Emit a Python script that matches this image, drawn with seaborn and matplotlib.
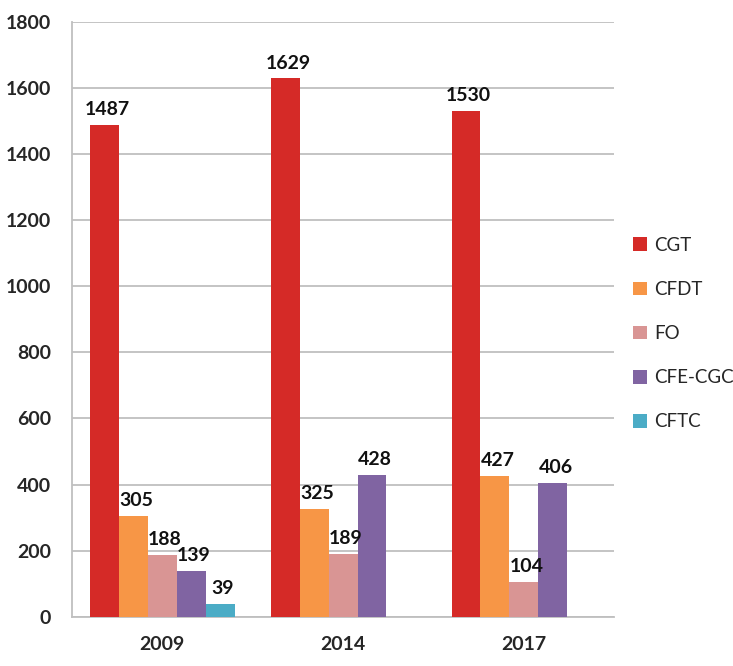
import pandas as pd
import seaborn as sns
import matplotlib.pyplot as plt
import numpy as np

# values
years = ['2009', '2014', '2017']
unions = ['CGT', 'CFDT', 'FO', 'CFE-CGC', 'CFTC']
cgt = [1487, 1629, 1530]
cfdt = [305, 325, 427]
fo = [188, 189, 104]
cfe_cgc = [139, 428, 406]
cftc = [39, np.nan, np.nan]
colors = ['#D52A27', '#F79646', '#D99594', '#8064A2', '#4BACC6']
y_ticks = [0, 200, 400, 600, 800, 1000, 1200, 1400, 1600, 1800]

series = {'CGT': cgt, 'CFDT': cfdt, 'FO': fo, 'CFE-CGC': cfe_cgc, 'CFTC': cftc}
rows = []
for u in unions:
    for yr, v in zip(years, series[u]):
        rows.append({'year': yr, 'union': u, 'value': v})
df = pd.DataFrame(rows)

sns.set_style('white')
plt.rcParams['font.family'] = ['Lato', 'DejaVu Sans']

fig = plt.figure(figsize=(7.33, 6.66), dpi=100)
ax = fig.add_axes([0.098, 0.074, 0.74, 0.893])

sns.barplot(data=df, x='year', y='value', hue='union', order=years,
            hue_order=unions, palette=colors, width=0.8, saturation=1,
            errorbar=None, linewidth=0, ax=ax, zorder=3)

# value labels on each drawn bar
for cont in ax.containers:
    for bar in cont:
        if bar is None or np.isnan(bar.get_height()):
            continue
        ax.annotate(f'{int(round(bar.get_height()))}',
                    (bar.get_x() + bar.get_width() / 2, bar.get_height()),
                    xytext=(2, 5), textcoords='offset points',
                    ha='center', va='bottom', fontsize=14,
                    fontweight='bold', color='#111111')

ax.set_ylim(0, 1800)
ax.set_yticks(y_ticks)
ax.set_xlim(-0.5, 2.5)
ax.yaxis.grid(True, color='#BFBFBF', linewidth=1.3, zorder=0)
ax.set_axisbelow(True)
for s in ['top', 'right']:
    ax.spines[s].set_visible(False)
for s in ['left', 'bottom']:
    ax.spines[s].set_color('#BFBFBF')
    ax.spines[s].set_linewidth(1.3)

ax.set_xlabel('')
ax.set_ylabel('')
ax.tick_params(axis='y', length=7, color='#BFBFBF', width=1.3,
               labelsize=14, pad=8)
ax.tick_params(axis='x', which='major', length=0, labelsize=14, pad=14)
ax.set_xticks([-0.5, 0.5, 1.5, 2.5], minor=True)
ax.tick_params(axis='x', which='minor', length=10, color='#BFBFBF', width=1.3)
for t in ax.get_xticklabels() + ax.get_yticklabels():
    t.set_fontweight('bold')

leg = ax.legend(loc='center left', bbox_to_anchor=(1.035, 0.476), frameon=False,
                fontsize=13.5, handlelength=0.75, handleheight=0.75,
                labelspacing=1.45, handletextpad=0.35, borderaxespad=0,
                borderpad=0)

fig.savefig('out.png', dpi=100)
